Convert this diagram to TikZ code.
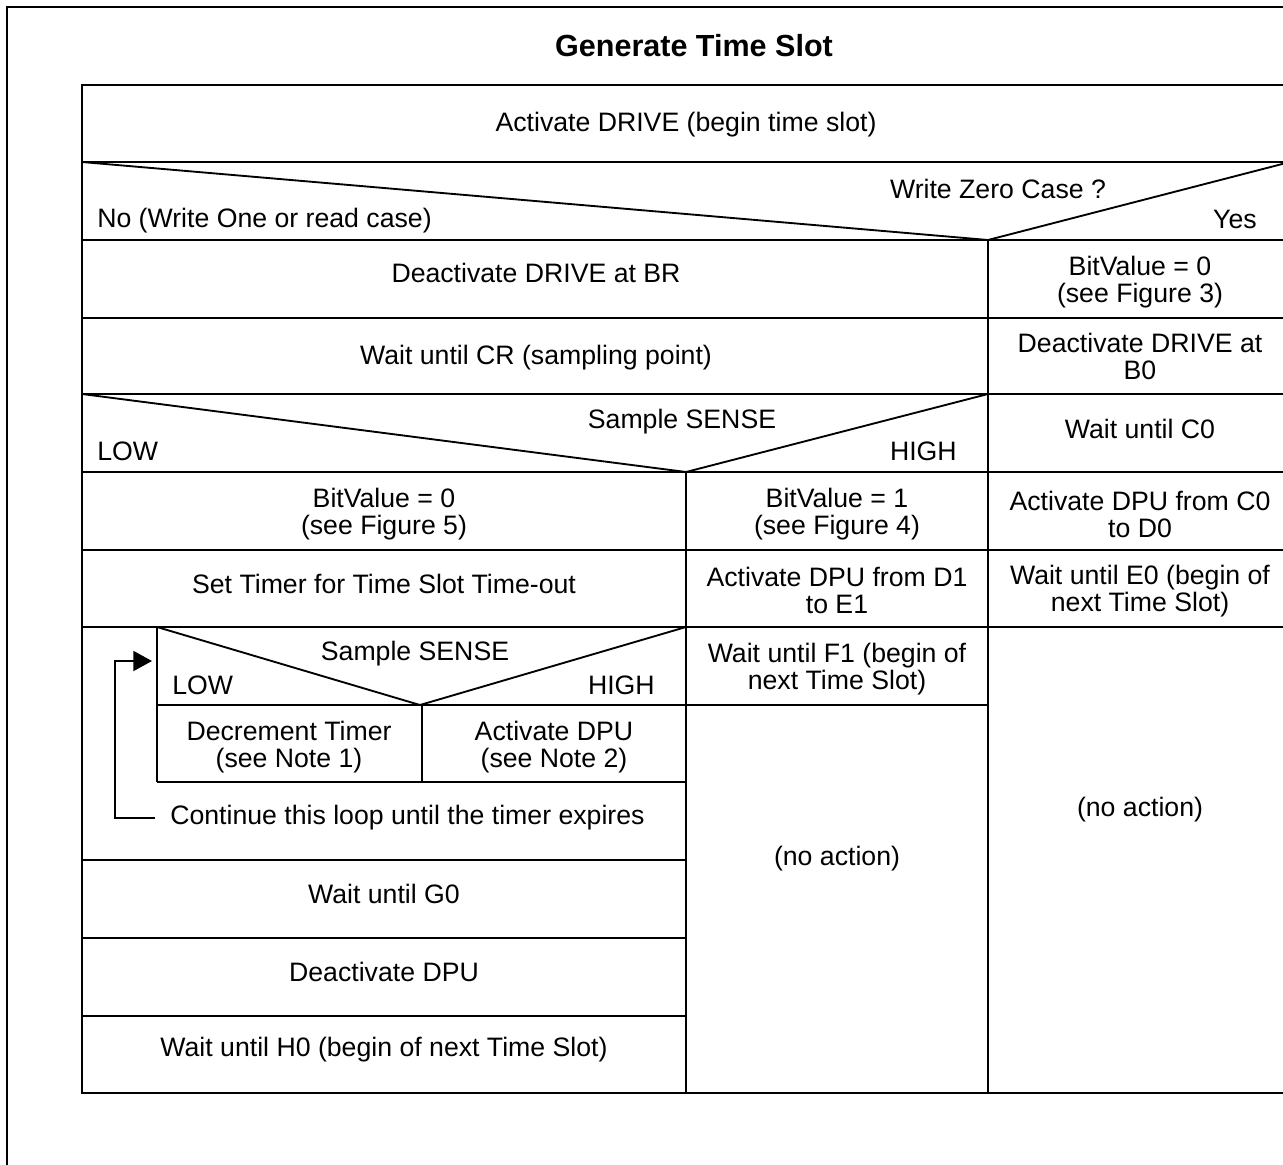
\documentclass[tikz,border=0pt]{standalone}
\usepackage{fontspec}
\setmainfont{Liberation Sans}
\usetikzlibrary{arrows.meta}
\begin{document}
\begin{tikzpicture}[x=0.75pt,y=-0.75pt,
  outerframe/.style={line width=2.2pt},
  grid/.style={line width=1.8pt},
  diag/.style={line width=1.4pt},
  loopline/.style={line width=1.4pt},
  txt/.style={font=\fontsize{20}{20.3}\selectfont, inner sep=0pt, align=center},
  ttl/.style={font=\fontsize{22.9}{24}\selectfont\bfseries, inner sep=0pt}]
\useasboundingbox (0,0) rectangle (1283,1165);
\clip (0,0) rectangle (1283,1165);
\draw[outerframe] (7,7) rectangle (1330,1200);
% table frame
\draw[grid] (82,85) rectangle (1290,1093);
% horizontal rules
\draw[grid] (82,162) -- (1290,162);
\draw[grid] (82,240) -- (1290,240);
\draw[grid] (82,318) -- (1290,318);
\draw[grid] (82,394) -- (1290,394);
\draw[grid] (82,472) -- (1290,472);
\draw[grid] (82,550) -- (1290,550);
\draw[grid] (82,627) -- (1290,627);
\draw[grid] (157,705) -- (988,705);
\draw[grid] (157,782) -- (686,782);
\draw[grid] (82,860) -- (686,860);
\draw[grid] (82,938) -- (686,938);
\draw[grid] (82,1016) -- (686,1016);
% vertical rules
\draw[grid] (988,240) -- (988,1093);
\draw[grid] (686,472) -- (686,1093);
\draw[grid] (157,627) -- (157,782);
\draw[grid] (422,705) -- (422,782);
% decision diagonals
\draw[diag] (82,162) -- (988,240) -- (1290,162);
\draw[diag] (82,394) -- (686,472) -- (988,394);
\draw[diag] (157,627) -- (420,705) -- (686,627);

% title
\node[ttl] (title) at (694,46) {Generate Time Slot};
% texts
\node[txt] (t1) at (686,125) {Activate DRIVE (begin time slot)};
\node[txt] (q1) at (998,189) {Write Zero Case ?};
\node[txt,anchor=west] (no1) at (97,221) {No (Write One or read case)};
\node[txt,anchor=east] (yes1) at (1257,219) {Yes};
\node[txt] (t2) at (536,273) {Deactivate DRIVE at BR};
\node[txt] (r1) at (1140,282) {BitValue = 0\\(see Figure 3)};
\node[txt] (t3) at (536,358) {Wait until CR (sampling point)};
\node[txt] (r2) at (1140,356) {Deactivate DRIVE at\\B0};
\node[txt] (q2) at (682,422) {Sample SENSE};
\node[txt,anchor=west] (low2) at (97,451) {LOW};
\node[txt,anchor=east] (high2) at (957,451) {HIGH};
\node[txt] (r3) at (1140,429) {Wait until C0};
\node[txt] (l1) at (384,514) {BitValue = 0\\(see Figure 5)};
\node[txt] (m1) at (837,514) {BitValue = 1\\(see Figure 4)};
\node[txt] (r4) at (1140,514) {Activate DPU from C0\\to D0};
\node[txt] (l2) at (384,584) {Set Timer for Time Slot Time-out};
\node[txt] (m2) at (837,590) {Activate DPU from D1\\to E1};
\node[txt] (r5) at (1140,591) {Wait until E0 (begin of\\next Time Slot)};
\node[txt] (q3) at (415,654) {Sample SENSE};
\node[txt,anchor=west] (low3) at (172,685) {LOW};
\node[txt,anchor=east] (high3) at (655,685) {HIGH};
\node[txt] (m3) at (837,669) {Wait until F1 (begin of\\next Time Slot)};
\node[txt] (d1) at (289,747) {Decrement Timer\\(see Note 1)};
\node[txt] (d2) at (554,747) {Activate DPU\\(see Note 2)};
\node[txt,anchor=west] (cont) at (170,818) {Continue this loop until the timer expires};
\node[txt] (m4) at (837,859) {(no action)};
\node[txt] (r6) at (1140,810) {(no action)};
\node[txt] (l3) at (384,894) {Wait until G0};
\node[txt] (l4) at (384,972) {Deactivate DPU};
\node[txt] (l5) at (384,1050) {Wait until H0 (begin of next Time Slot)};

% loop connector
\coordinate (loopstart) at ([xshift=-11.25pt]cont.west);
\coordinate (loopend) at (152,661);
\draw[loopline,-{Triangle[length=14pt,width=15pt]}] (loopstart) -- (115,818) -- (115,661) -- (loopend);
\end{tikzpicture}
\end{document}
